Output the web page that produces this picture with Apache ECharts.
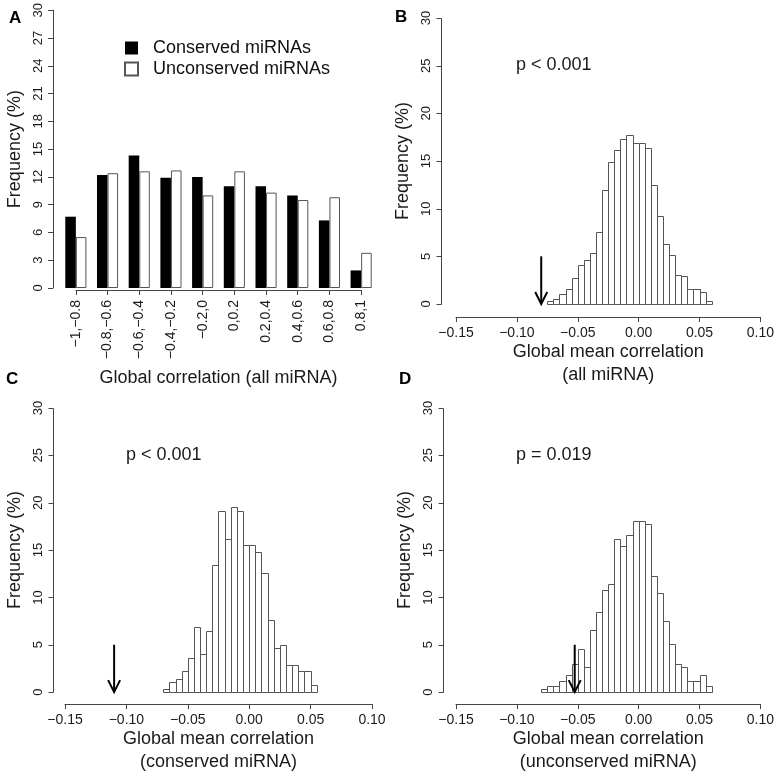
<!DOCTYPE html>
<html><head><meta charset="utf-8">
<script src="https://cdn.jsdelivr.net/npm/echarts@6/dist/echarts.min.js"></script>
<style>html,body{margin:0;padding:0;background:#fff}#c{width:777px;height:775px}</style>
</head><body><div id="c"></div>
<script>
// ---- Panel A data ----
const categoriesA = ['−1,−0.8','−0.8,−0.6','−0.6,−0.4','−0.4,−0.2','−0.2,0','0,0.2','0.2,0.4','0.4,0.6','0.6,0.8','0.8,1'];
const conservedA   = [7.7, 12.2, 14.3, 11.9, 12.0, 11.0, 11.0, 10.0, 7.3, 1.9];
const unconservedA = [5.5, 12.4, 12.6, 12.7, 10.0, 12.6, 10.3, 9.5, 9.8, 3.8];

// ---- Histogram data (bin width 0.005) ----
const binWidth = 0.005;
const binStartB = -0.075;
const freqB = [0.3,0.5,1.1,1.6,2.7,4.1,4.6,5.4,7.6,12.0,14.9,16.2,17.3,17.7,16.9,16.9,16.4,12.5,9.2,6.3,5.1,3.0,2.9,1.6,1.6,1.3,0.3];
const binStartC = -0.07;
const freqC = [0.35,1.05,1.4,2.2,3.6,6.9,4.0,6.5,13.4,19.1,16.2,19.5,19.1,15.5,15.5,14.8,12.6,7.6,4.7,5.0,2.9,2.9,2.2,2.2,0.7];
const binStartD = -0.08;
const freqD = [0.3,0.6,0.6,1.2,1.8,3.0,4.5,2.7,6.6,8.5,10.8,11.4,16.2,15.4,16.6,18.1,18.1,17.8,12.3,10.5,7.5,5.1,3.0,2.7,1.2,1.2,1.8,0.6];

// observed values (arrows)
const observedB = -0.08, observedC = -0.11, observedD = -0.0525;
const arrowTop = 5;

const pTextB = 'p < 0.001', pTextC = 'p < 0.001', pTextD = 'p = 0.019';
const xTicks = [-0.15, 0.10, 0.05];
const freqTicks = [0, 5, 10, 15, 20, 25, 30];

const FONT = '"Liberation Sans", Arial, Helvetica, sans-serif';
const TXT = '#1a1a1a';
const AX = '#444';

function bins(start, freq){
  return freq.map((f,i)=>[start + i*binWidth, start + (i+1)*binWidth, f]);
}
function histItem(params, api){
  const a = api.coord([api.value(0), 0]);
  const b = api.coord([api.value(1), api.value(2)]);
  const x0 = Math.round(a[0]), x1 = Math.round(b[0]), y0 = Math.round(a[1]), y1 = Math.round(b[1]);
  return {type:'rect', shape:{x:x0+0.5, y:y1+0.5, width:x1-x0, height:y0-y1},
    style:{fill:'#fff', stroke:'#555', lineWidth:1}};
}
function arrowItem(params, api){
  const t = api.coord([api.value(0), api.value(1)]);
  const b = api.coord([api.value(0), 0]);
  return {type:'group', children:[
    {type:'line', shape:{x1:t[0], y1:t[1], x2:b[0], y2:b[1]-1}, style:{stroke:'#000', lineWidth:2}},
    {type:'polyline', shape:{points:[[b[0]-6,b[1]-12],[b[0],b[1]],[b[0]+6,b[1]-12]]}, style:{stroke:'#000', lineWidth:2, fill:null}}
  ]};
}
const fmt = v => (Math.abs(v) < 1e-9 ? 0 : v).toFixed(2).replace('-', '−');

function histX(gi, offset, name){
  return {gridIndex:gi, type:'value', min:xTicks[0], max:xTicks[1], interval:xTicks[2], offset:offset,
    axisLine:{show:true, onZero:false, lineStyle:{color:AX}}, axisTick:{show:true, length:5, lineStyle:{color:AX}},
    splitLine:{show:false},
    axisLabel:{formatter:fmt, fontSize:14, color:TXT, fontFamily:FONT, margin:9},
    name:name, nameLocation:'middle', nameGap:22,
    nameTextStyle:{fontSize:18, color:TXT, fontFamily:FONT, lineHeight:23}};
}
function freqY(gi, offset, step, showLine){
  return {gridIndex:gi, type:'value', min:0, max:30, interval:step, offset:offset,
    axisLine:{show:showLine, onZero:false, lineStyle:{color:AX}}, axisTick:{show:showLine, length:5, lineStyle:{color:AX}},
    splitLine:{show:false},
    axisLabel:{rotate:90, fontSize:13, color:TXT, fontFamily:FONT, margin:8},
    name:'Frequency (%)', nameLocation:'middle', nameGap:29,
    nameTextStyle:{fontSize:18, color:TXT, fontFamily:FONT}};
}

const offB = 15, offC = 12, offD = 13;

const option = {
  animation:false,
  backgroundColor:'#fff',
  textStyle:{fontFamily:FONT},
  grid:[
    {left:60, right:400, top:6, bottom:487},      // A
    {left:76, width:285, top:289, height:1},      // A axis line helper
    {left:456, right:15, top:18, bottom:471},     // B
    {left:65, right:405, top:408, bottom:81},     // C
    {left:456, right:15, top:408, bottom:81}      // D
  ],
  legend:{orient:'vertical', left:124, top:39, padding:0, itemWidth:13, itemHeight:13, itemGap:3,
    textStyle:{fontSize:18, color:'#111', fontFamily:FONT, padding:[0,0,0,10]},
    data:[{name:'Conserved miRNAs', icon:'rect'},{name:'Unconserved miRNAs', icon:'rect'}]},
  xAxis:[
    {gridIndex:0, type:'category', data:categoriesA,
      axisLine:{show:false, onZero:false}, axisTick:{show:false},
      axisLabel:{rotate:90, interval:0, fontSize:14, color:TXT, fontFamily:FONT, margin:12},
      name:'Global correlation (all miRNA)', nameLocation:'middle', nameGap:81,
      nameTextStyle:{fontSize:18, color:TXT, fontFamily:FONT}},
    {gridIndex:1, type:'value', min:0, max:categoriesA.length-1, interval:1,
      axisLine:{show:true, onZero:false, lineStyle:{color:AX}}, axisTick:{show:true, length:5, lineStyle:{color:AX}},
      axisLabel:{show:false}, splitLine:{show:false}},
    histX(2, 13, 'Global mean correlation\n(all miRNA)'),
    histX(3, 12, 'Global mean correlation\n(conserved miRNA)'),
    histX(4, 12, 'Global mean correlation\n(unconserved miRNA)')
  ],
  yAxis:[
    freqY(0, 7, 3, true),
    {gridIndex:1, type:'value', show:false, min:0, max:1},
    freqY(2, offB, 5, false),
    freqY(3, offC, 5, false),
    freqY(4, offD, 5, false)
  ],
  series:[
    {name:'Conserved miRNAs', type:'bar', xAxisIndex:0, yAxisIndex:0, data:conservedA,
      barWidth:'33.3%', barGap:'0%', itemStyle:{color:'#000', borderColor:'#000', borderWidth:0}},
    {name:'Unconserved miRNAs', type:'bar', xAxisIndex:0, yAxisIndex:0, data:unconservedA,
      barWidth:'33.3%', barGap:'0%', itemStyle:{color:'#fff', borderColor:'#555', borderWidth:1}},
    {type:'custom', xAxisIndex:2, yAxisIndex:2, data:bins(binStartB, freqB), encode:{x:[0,1], y:2}, renderItem:histItem},
    {type:'custom', xAxisIndex:3, yAxisIndex:3, data:bins(binStartC, freqC), encode:{x:[0,1], y:2}, renderItem:histItem},
    {type:'custom', xAxisIndex:4, yAxisIndex:4, data:bins(binStartD, freqD), encode:{x:[0,1], y:2}, renderItem:histItem},
    {type:'custom', xAxisIndex:2, yAxisIndex:2, data:[[observedB, arrowTop]], encode:{x:0, y:1}, renderItem:arrowItem, z:5},
    {type:'custom', xAxisIndex:3, yAxisIndex:3, data:[[observedC, arrowTop]], encode:{x:0, y:1}, renderItem:arrowItem, z:5},
    {type:'custom', xAxisIndex:4, yAxisIndex:4, data:[[observedD, arrowTop]], encode:{x:0, y:1}, renderItem:arrowItem, z:5}
  ],
  graphic:[
    {id:'lA', type:'text', x:9, y:18, style:{text:'A', font:'bold 17px '+FONT, fill:'#000', verticalAlign:'middle'}},
    {id:'lB', type:'text', x:395, y:17, style:{text:'B', font:'bold 17px '+FONT, fill:'#000', verticalAlign:'middle'}},
    {id:'lC', type:'text', x:6, y:379, style:{text:'C', font:'bold 17px '+FONT, fill:'#000', verticalAlign:'middle'}},
    {id:'lD', type:'text', x:399, y:379, style:{text:'D', font:'bold 17px '+FONT, fill:'#000', verticalAlign:'middle'}},
    {id:'pB', type:'text', x:516, y:65, style:{text:pTextB, font:'18px '+FONT, fill:TXT, verticalAlign:'middle'}},
    {id:'pC', type:'text', x:126, y:455, style:{text:pTextC, font:'18px '+FONT, fill:TXT, verticalAlign:'middle'}},
    {id:'pD', type:'text', x:516, y:455, style:{text:pTextD, font:'18px '+FONT, fill:TXT, verticalAlign:'middle'}}
  ]
};
const chart = echarts.init(document.getElementById('c'), null, {renderer:'canvas'});
chart.setOption(option);

// y-axis line and ticks of the histogram panels, placed through the axis scales
const extra = [];
[[2, offB], [3, offC], [4, offD]].forEach(([gi, off]) => {
  const bottom = chart.convertToPixel({xAxisIndex:gi, yAxisIndex:gi}, [xTicks[0], freqTicks[0]]);
  const top = chart.convertToPixel({xAxisIndex:gi, yAxisIndex:gi}, [xTicks[0], freqTicks[freqTicks.length-1]]);
  const x = Math.round(bottom[0]) - off + 0.5;
  extra.push({id:'yl'+gi, type:'line', z:100, silent:true,
    shape:{x1:x, y1:Math.round(bottom[1])+0.5, x2:x, y2:Math.round(top[1])+0.5},
    style:{stroke:AX, lineWidth:1}});
  freqTicks.forEach((v, k) => {
    const p = chart.convertToPixel({xAxisIndex:gi, yAxisIndex:gi}, [xTicks[0], v]);
    const y = Math.round(p[1]) + 0.5;
    extra.push({id:'yt'+gi+'_'+k, type:'line', z:100, silent:true,
      shape:{x1:x-5, y1:y, x2:x, y2:y}, style:{stroke:AX, lineWidth:1}});
  });
});
chart.setOption({graphic: extra});
</script>
</body></html>
